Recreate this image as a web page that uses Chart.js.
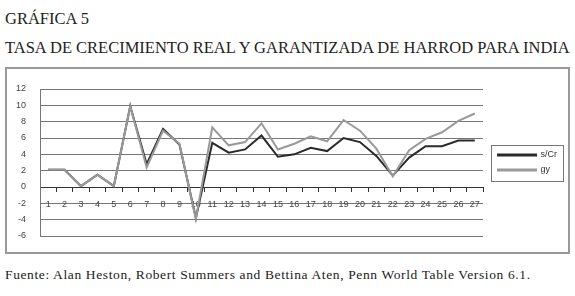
<!DOCTYPE html>
<html>
<head>
<meta charset="utf-8">
<script src="https://cdn.jsdelivr.net/npm/chart.js@4/dist/chart.umd.min.js"></script>
<style>
  body { margin: 0; background: #fff; width: 575px; height: 296px; position: relative; overflow: hidden; }
  .t { position: absolute; left: 5px; font-family: "Liberation Serif", serif; color: #222; white-space: nowrap; }
  #t1 { top: 9px; font-size: 16.5px; }
  #t2 { top: 38px; font-size: 16.5px; }
  #frame { position: absolute; left: 5px; top: 67px; width: 561px; height: 183px; border: 2px solid #999; }
  #wrap { position: absolute; left: 0; top: 0; width: 561px; height: 183px; }
  #src { top: 267px; font-size: 13.5px; letter-spacing: 0.62px; }
</style>
</head>
<body>
<div class="t" id="t1">GRÁFICA 5</div>
<div class="t" id="t2">TASA DE CRECIMIENTO REAL Y GARANTIZADA DE HARROD PARA INDIA</div>
<div id="frame"><div id="wrap"><canvas id="c"></canvas></div></div>
<div class="t" id="src">Fuente: Alan Heston, Robert Summers and Bettina Aten, Penn World Table Version 6.1.</div>
<script>
// valores
const years = ['1','2','3','4','5','6','7','8','9','10','11','12','13','14','15','16','17','18','19','20','21','22','23','24','25','26','27'];
const sCr = [2.1, 2.1, 0.1, 1.5, 0.1, 9.9, 2.8, 7.1, 5.2, -3.8, 5.4, 4.2, 4.6, 6.3, 3.7, 4.0, 4.8, 4.4, 6.0, 5.5, 3.8, 1.4, 3.6, 5.0, 5.0, 5.7, 5.7];
const gy  = [2.1, 2.1, 0.1, 1.5, 0.1, 9.9, 2.4, 6.9, 5.3, -3.9, 7.3, 5.1, 5.5, 7.8, 4.6, 5.3, 6.2, 5.6, 8.2, 6.9, 4.7, 1.3, 4.5, 5.9, 6.7, 8.1, 9.0];

// corre la leyenda un poco a la derecha y le pone un marco
const legendBox = {
  id: 'legendBox',
  afterLayout(chart) {
    chart.legend.left += 9;
    chart.legend.right += 9;
  },
  afterDraw(chart) {
    const boxes = chart.legend.legendHitBoxes;
    if (!boxes || !boxes.length) return;
    const x0 = Math.min(...boxes.map(b => b.left)) - 7;
    const y0 = Math.min(...boxes.map(b => b.top)) - 6;
    const x1 = Math.max(...boxes.map(b => b.left + b.width)) + 6;
    const y1 = Math.max(...boxes.map(b => b.top + b.height)) + 6;
    const ctx = chart.ctx;
    ctx.save();
    ctx.strokeStyle = '#777';
    ctx.lineWidth = 1;
    ctx.strokeRect(Math.round(x0) + 0.5, Math.round(y0) + 0.5, Math.round(x1 - x0), Math.round(y1 - y0));
    ctx.restore();
  }
};

new Chart(document.getElementById('c'), {
  type: 'line',
  data: {
    labels: years,
    datasets: [
      { label: 's/Cr', data: sCr, order: 1, borderColor: '#2a2a2a', backgroundColor: '#2a2a2a', borderWidth: 2, pointRadius: 0, tension: 0 },
      { label: 'gy', data: gy, order: 0, borderColor: '#999', backgroundColor: '#999', borderWidth: 2, pointRadius: 0, tension: 0 }
    ]
  },
  options: {
    responsive: true,
    maintainAspectRatio: false,
    animation: false,
    layout: { padding: { left: 0, top: 20, right: 10, bottom: 16 } },
    plugins: {
      tooltip: { enabled: false },
      legend: {
        position: 'right',
        labels: {
          boxWidth: 38,
          boxHeight: 1,
          padding: 6,
          color: '#333',
          font: { family: 'Liberation Sans', size: 9 },
          sort: (a, b) => a.datasetIndex - b.datasetIndex
        }
      }
    },
    scales: {
      x: {
        position: { y: 0 },
        offset: true,
        grid: { offset: true, drawOnChartArea: false, drawTicks: true, tickLength: 4, color: '#333' },
        border: { color: '#333', width: 1 },
        ticks: { color: '#444', font: { family: 'Liberation Sans', size: 9 }, padding: 8, maxRotation: 0, autoSkip: false }
      },
      y: {
        min: -6,
        max: 12,
        afterFit(s) { s.width = 33; },
        // marcas invisibles: solo separan las etiquetas del eje
        grid: { color: '#777', drawTicks: true, tickLength: 10, tickWidth: 0, tickColor: 'rgba(0,0,0,0)' },
        border: { color: '#777', width: 1 },
        ticks: { stepSize: 2, color: '#444', font: { family: 'Liberation Sans', size: 9 }, padding: 4 }
      }
    }
  },
  plugins: [legendBox]
});
</script>
</body>
</html>
